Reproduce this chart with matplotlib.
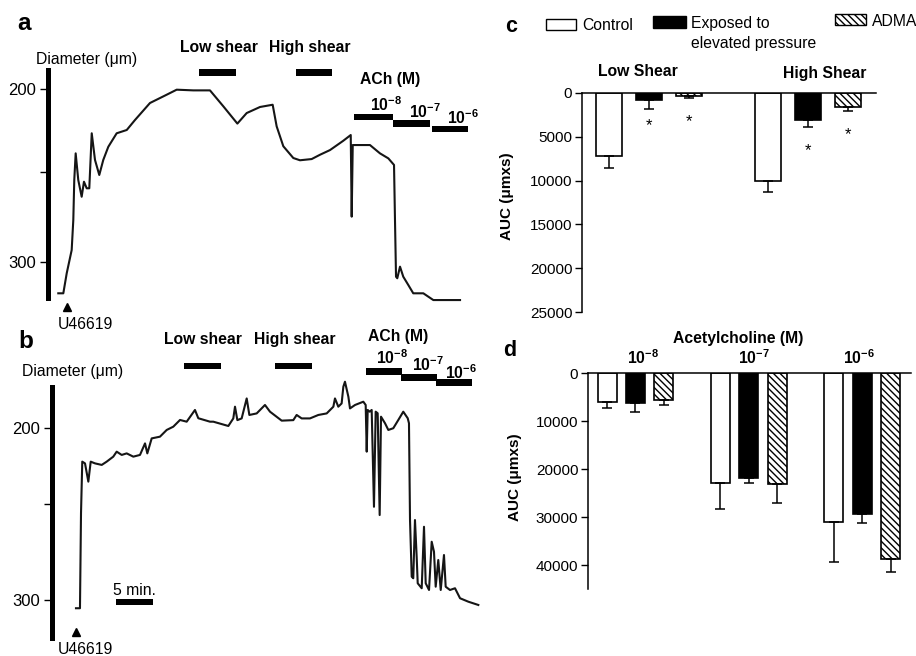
import matplotlib
matplotlib.use('Agg')
import matplotlib.pyplot as plt
from matplotlib.patches import Rectangle
from matplotlib import transforms

plt.rcParams['font.family'] = ['Liberation Sans', 'DejaVu Sans']
plt.rcParams['mathtext.fontset'] = 'custom'
plt.rcParams['mathtext.rm'] = 'Liberation Sans'
plt.rcParams['mathtext.bf'] = 'Liberation Sans:bold'
plt.rcParams['hatch.linewidth'] = 1.0

# ---------------- data ----------------
# panel a trace: time (min), diameter (um)
a_time = [1.39, 2.07, 2.53, 3.20, 3.42, 3.55, 3.74, 4.09, 4.55, 4.86, 5.23, 5.58, 5.91, 6.35,
          6.93, 7.47, 8.15, 9.28, 10.64, 11.76, 13.78, 16.04, 17.39, 19.64, 21.89, 23.69,
          25.59, 26.85, 28.65, 30.36, 30.90, 31.80, 33.15, 34.05, 35.63, 36.76, 38.11, 39.91,
          40.91, 41.04, 41.18, 42.16, 43.51, 44.86, 45.99, 46.76, 46.89, 47.03, 47.20, 47.57,
          48.01, 48.69, 49.36, 50.72, 52.07, 53.88, 55.68]
a_diam = [318.1, 318.1, 306.5, 293.1, 275.7, 252.6, 237.2, 252.6, 262.3, 253.6, 257.4, 257.4,
          225.6, 241.0, 249.7, 241.0, 233.4, 225.6, 223.7, 217.9, 208.1, 203.3, 200.4, 200.8,
          200.8, 210.0, 220.0, 213.9, 210.4, 209.1, 221.6, 233.1, 239.9, 241.2, 240.5, 238.0,
          235.3, 229.9, 226.6, 273.8, 232.4, 232.4, 232.4, 237.2, 240.1, 243.9, 275.7, 308.5,
          309.4, 302.7, 308.5, 313.3, 318.1, 318.1, 322.0, 322.0, 322.0]

# panel b trace
b_time = [3.24, 3.78, 3.92, 4.09, 4.46, 4.91, 5.23, 5.81, 6.72, 7.39, 8.28, 8.74, 9.42, 10.09,
          10.99, 11.89, 12.57, 12.88, 13.47, 14.59, 15.50, 16.39, 17.30, 18.20, 19.32, 19.77,
          21.35, 21.80, 23.83, 24.50, 24.73, 25.05, 25.63, 26.31, 26.67, 27.66, 28.78, 29.46,
          31.04, 32.61, 33.06, 33.74, 34.86, 35.99, 37.12, 38.02, 38.24, 38.69, 39.14, 39.37,
          39.59, 40.05, 40.27, 40.95, 42.07, 42.39, 42.53, 42.66, 42.93, 43.20, 43.51, 43.74,
          44.01, 44.28, 44.46, 45.00, 45.45, 46.12, 46.80, 47.47, 48.07, 48.24, 48.38, 48.61,
          48.82, 49.05, 49.28, 49.42, 49.96, 50.27, 50.50, 50.95, 51.31, 51.62, 51.85, 52.20,
          52.53, 52.97, 53.20, 53.78, 54.46, 55.14, 56.26, 57.61]
b_diam = [304.8, 304.8, 249.7, 219.7, 220.7, 231.3, 219.7, 220.7, 221.6, 219.7, 216.8, 213.9,
          215.8, 214.9, 216.8, 215.8, 209.1, 214.9, 206.2, 205.2, 201.3, 199.4, 195.5, 196.5,
          189.7, 194.5, 196.5, 196.5, 199.0, 194.6, 187.8, 195.6, 194.6, 183.0, 192.6, 191.7,
          186.8, 190.7, 195.9, 195.6, 192.6, 194.6, 194.6, 192.6, 191.7, 187.8, 183.0, 187.8,
          185.9, 176.2, 173.3, 182.0, 188.8, 186.8, 184.9, 186.8, 213.9, 189.7, 190.7, 189.7,
          245.9, 190.7, 191.6, 250.7, 193.6, 197.4, 201.3, 200.3, 195.5, 190.7, 194.5, 197.4,
          253.6, 286.5, 287.4, 253.6, 274.9, 290.3, 293.2, 257.5, 290.3, 294.2, 266.2, 272.0,
          292.3, 276.8, 294.2, 273.9, 292.3, 294.2, 293.2, 299.0, 301.0, 302.9]

# protocol periods (min)
a_low_shear = (20.4, 25.4)
a_high_shear = (33.5, 38.4)
a_ach = [(41.35, 46.6), (46.6, 51.6), (51.9, 56.8)]
a_u46619 = 2.6
b_low_shear = (17.8, 22.8)
b_high_shear = (30.1, 35.1)
b_ach = [(42.4, 47.3), (47.2, 52.0), (51.9, 56.8)]
b_u46619 = 3.2
ach_labels = [r'$\mathbf{10^{-8}}$', r'$\mathbf{10^{-7}}$', r'$\mathbf{10^{-6}}$']

# panel c: AUC (um x s)
conditions = ['Control', 'Exposed to\nelevated pressure', 'ADMA']
c_groups = ['Low Shear', 'High Shear']
c_control = [7190, 10050]
c_control_err = [1370, 1290]
c_exposed = [800, 3080]
c_exposed_err = [1060, 840]
c_adma = [300, 1640]
c_adma_err = [300, 410]

# panel d
d_groups = ['10^-8', '10^-7', '10^-6']
d_control = [6000, 22960, 31040]
d_control_err = [1300, 5370, 8290]
d_exposed = [6270, 21920, 29370]
d_exposed_err = [1810, 1040, 1880]
d_adma = [5640, 23170, 38830]
d_adma_err = [980, 3840, 2650]

# ---------------- figure ----------------
W, H = 916, 656
fig = plt.figure(figsize=(W / 100, H / 100), dpi=100)
FS = 11.3


def box(l, t, r, b):
    return [l / W, 1 - b / H, (r - l) / W, (b - t) / H]


def fy(y):
    return 1 - y / H


def fx(x):
    return x / W


def trace_panel(rect, t, d, ylim, bounds, ticks, xmax):
    ax = fig.add_axes(rect)
    ax.plot(t, d, color='#151515', lw=1.5, clip_on=False, solid_joinstyle='round')
    ax.set_xlim(0, xmax)
    ax.set_ylim(*ylim)
    for s in ['top', 'right', 'bottom']:
        ax.spines[s].set_visible(False)
    ax.spines['left'].set_linewidth(3.6)
    ax.spines['left'].set_bounds(*bounds)
    ax.set_xticks([])
    ax.set_yticks(ticks)
    ax.set_yticklabels(['200', '', '300'])
    ax.tick_params(axis='y', length=6, width=1.0, pad=2.5, labelsize=12)
    ax.patch.set_visible(False)
    return ax


def annotate_trace(ax, low, high, ach, low_y, high_y, ach_y, bar_rows, lab_rows, u_t, u_y):
    tr = transforms.blended_transform_factory(ax.transData, fig.transFigure)
    ax.text(low_y[0], fy(low_y[1]), 'Low shear', transform=tr, ha='center', va='baseline',
            fontsize=FS, fontweight='bold')
    ax.text(high_y[0], fy(high_y[1]), 'High shear', transform=tr, ha='center', va='baseline',
            fontsize=FS, fontweight='bold')
    ax.text(ach_y[0], fy(ach_y[1]), 'ACh (M)', transform=tr, ha='center', va='baseline',
            fontsize=FS, fontweight='bold')
    for (t0, t1), (yt, yb) in zip([low, high] + ach, bar_rows):
        ax.add_patch(Rectangle((t0, fy(yb)), t1 - t0, fy(yt) - fy(yb), transform=tr,
                               color='black', clip_on=False, lw=0))
    for lab, (tx, yb) in zip(ach_labels, lab_rows):
        ax.text(tx, fy(yb), lab, transform=tr, ha='center', va='baseline', fontsize=FS)
    ax.plot([u_t], [fy(u_y)], marker='^', color='black', ms=5.5, transform=tr, clip_on=False)
    return tr


# ---- panel a ----
axa = trace_panel(box(48, 60, 475, 305), a_time, a_diam, (324.86, 183.24), (189.0, 320.8),
                  [200, 248, 300], (475 - 48) / 7.4)
annotate_trace(axa, a_low_shear, a_high_shear, a_ach,
               (23.1, 52.3), (35.4, 52.3), (46.3, 84),
               [(69, 76), (69, 76), (114, 120), (120, 127), (126, 132)],
               [(45.7, 111), (50.9, 118.3), (56.1, 124)],
               a_u46619, 307)
fig.text(fx(85.5), fy(329), 'U46619', ha='center', va='baseline', fontsize=FS)
fig.text(fx(36), fy(64), 'Diameter (μm)', ha='left', va='baseline', fontsize=FS)
fig.text(fx(24.5), fy(30), 'a', ha='center', va='baseline', fontsize=17.5, fontweight='bold')

# ---- panel b ----
axb = trace_panel(box(52, 380, 485, 642), b_time, b_diam, (324.4, 172.3), (176.4, 322.0),
                  [200, 244, 300], (485 - 52) / 7.4)
trb = annotate_trace(axb, b_low_shear, b_high_shear, b_ach,
                     (20.4, 344.3), (32.8, 344.3), (46.8, 341),
                     [(363, 369), (363, 369), (368, 375), (374, 381), (379, 386)],
                     [(46.0, 364), (50.8, 371), (55.3, 378.7)],
                     b_u46619, 632)
# 5 min scale bar
axb.add_patch(Rectangle((8.65, fy(605)), 5.0, fy(599) - fy(605), transform=trb,
                        color='black', clip_on=False, lw=0))
axb.text(11.15, fy(595), '5 min.', transform=trb, ha='center', va='baseline', fontsize=FS)
fig.text(fx(85.5), fy(654), 'U46619', ha='center', va='baseline', fontsize=FS)
fig.text(fx(22), fy(376), 'Diameter (μm)', ha='left', va='baseline', fontsize=FS)
fig.text(fx(25.5), fy(348), 'b', ha='center', va='baseline', fontsize=17.5, fontweight='bold')


# ---- bar panels ----
def bar_panel(rect, ngroups, series, errs, ylim, yticks, xlim, width):
    ax = fig.add_axes(rect)
    styles = [dict(color='white', hatch=None), dict(color='black', hatch=None),
              dict(color='white', hatch='\\\\\\\\\\')]
    for k, (vals, ev) in enumerate(zip(series, errs)):
        xs = [g * 4 + k for g in range(ngroups)]
        ax.bar(xs, vals, width=width, color=styles[k]['color'], edgecolor='black',
               hatch=styles[k]['hatch'], linewidth=1.2, zorder=2)
        ax.errorbar(xs, vals, yerr=[[0] * ngroups, ev], fmt='none', ecolor='black',
                    elinewidth=1.1, capsize=3.3, capthick=1.1, zorder=3)
    ax.set_xlim(*xlim)
    ax.set_ylim(*ylim)
    ax.spines['right'].set_visible(False)
    ax.spines['bottom'].set_visible(False)
    ax.spines['top'].set_linewidth(1.1)
    ax.spines['left'].set_linewidth(1.1)
    ax.set_xticks([])
    ax.set_yticks(yticks)
    ax.set_yticklabels([str(v) for v in yticks])
    ax.tick_params(axis='y', length=5, width=1.0, pad=2, labelsize=11)
    ax.patch.set_visible(False)
    return ax


axc = bar_panel(box(582, 93, 876, 312), 2, [c_control, c_exposed, c_adma],
                [c_control_err, c_exposed_err, c_adma_err], (25000, 0),
                [0, 5000, 10000, 15000, 20000, 25000], (-0.675, 6.7), 0.65)
# significance stars (position, AUC level)
star_x = [1, 2, 5, 6]
star_y = [3700, 3250, 6550, 4700]
for sx, sy in zip(star_x, star_y):
    axc.text(sx, sy, '*', ha='center', va='center', fontsize=12)
fig.text(fx(638), fy(76), c_groups[0], ha='center', va='baseline', fontsize=FS, fontweight='bold')
fig.text(fx(825), fy(77.7), c_groups[1], ha='center', va='baseline', fontsize=FS, fontweight='bold')
fig.text(fx(507), fy(196), 'AUC (μmxs)', ha='center', va='center', rotation=90,
         fontsize=11, fontweight='bold')
fig.text(fx(511), fy(32), 'c', ha='center', va='baseline', fontsize=15.5, fontweight='bold')

# legend
leg_boxes = [(546, 19, 576, 30, 'white', None), (653, 16, 686, 28, 'black', None),
             (835, 14, 866, 25, 'white', '\\\\\\\\\\')]
for (l, t, r, b, col, hat) in leg_boxes:
    fig.patches.append(Rectangle((fx(l), fy(b)), fx(r) - fx(l), fy(t) - fy(b),
                                 transform=fig.transFigure, facecolor=col, edgecolor='black',
                                 hatch=hat, lw=1.0))
fig.text(fx(582), fy(30), conditions[0], ha='left', va='baseline', fontsize=FS)
fig.text(fx(691), fy(27.7), 'Exposed to', ha='left', va='baseline', fontsize=FS)
fig.text(fx(691), fy(48.3), 'elevated pressure', ha='left', va='baseline', fontsize=FS)
fig.text(fx(872), fy(25.7), conditions[2], ha='left', va='baseline', fontsize=FS)

axd = bar_panel(box(588, 373.3, 911, 589), 3, [d_control, d_exposed, d_adma],
                [d_control_err, d_exposed_err, d_adma_err], (45000, 0),
                [0, 10000, 20000, 30000, 40000], (-0.67, 10.72), 0.67)
fig.text(fx(738.5), fy(342.7), 'Acetylcholine (M)', ha='center', va='baseline', fontsize=FS,
         fontweight='bold')
for lab, cx in zip(ach_labels, [643, 754, 858.5]):
    fig.text(fx(cx), fy(364.3), lab, ha='center', va='baseline', fontsize=FS)
fig.text(fx(514.5), fy(477), 'AUC (μmxs)', ha='center', va='center', rotation=90,
         fontsize=11, fontweight='bold')
fig.text(fx(510), fy(356), 'd', ha='center', va='baseline', fontsize=15.5, fontweight='bold')

fig.savefig('out.png', dpi=100)
